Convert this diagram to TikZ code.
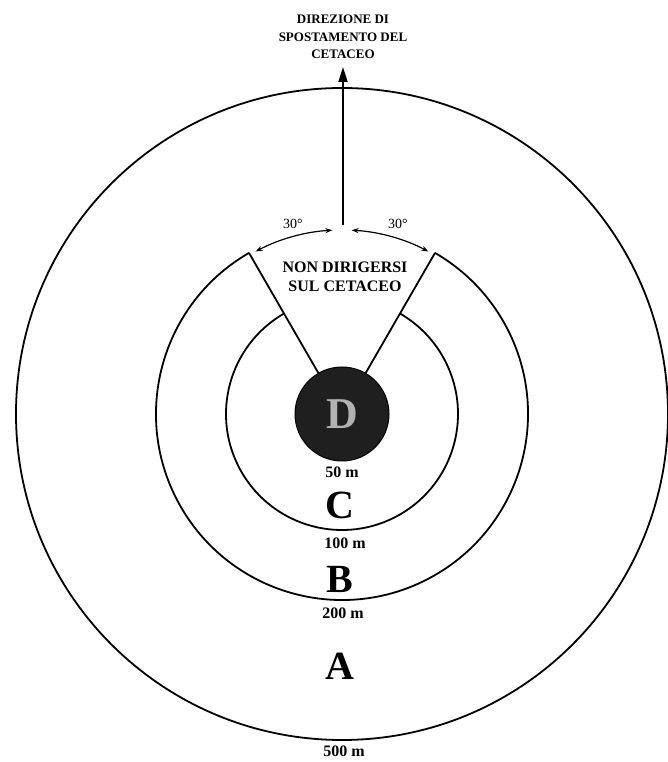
\documentclass[tikz,border=0pt]{standalone}
\usepackage{fontspec}
\setmainfont{Liberation Serif}
\usetikzlibrary{arrows.meta}
\tikzset{
  ring/.style={line width=1.8pt},
  lbl/.style={font=\bfseries\fontsize{16}{18}\selectfont, inner sep=0pt},
  zone/.style={font=\bfseries\fontsize{40}{40}\selectfont, inner sep=0pt},
  title/.style={font=\bfseries\fontsize{13}{17.5}\selectfont, align=center, inner sep=0pt},
  warn/.style={font=\bfseries\fontsize{16}{19}\selectfont, align=center, inner sep=0pt},
  deg/.style={font=\fontsize{14}{14}\selectfont, inner sep=0pt},
  angarrow/.style={line width=1.2pt, {Stealth[length=7pt,width=5pt]}-{Stealth[length=7pt,width=5pt]}}
}
\begin{document}
\begin{tikzpicture}[x=1pt,y=1pt]
\useasboundingbox (-342,-348) rectangle (325,414);
\coordinate (c) at (0,0);
% outer circle 500 m
\draw[ring] (c) circle[radius=326pt];
% 200 m circle (open at the wedge)
\draw[ring] (120:186pt) arc[start angle=120,end angle=420,radius=186pt];
% 100 m circle (open at the wedge)
\draw[ring] (120:116pt) arc[start angle=120,end angle=420,radius=116pt];
% wedge lines
\draw[ring] (120:46pt) -- (120:186pt);
\draw[ring] (60:46pt) -- (60:186pt);
% dark disk 50 m
\node[circle, fill=black!88, draw=black, line width=1pt, minimum size=94pt, inner sep=0pt,
      text=black!30, font=\bfseries\fontsize{44}{44}\selectfont] (disk) at (0,0) {D};
% direction arrow
\coordinate (abase) at (1,189);
\coordinate (atip) at (1,347);
\draw[line width=2pt, -{Triangle[length=15pt,width=9pt]}] (abase) -- (atip);
\node[title] (dir) at (1,377) {DIREZIONE DI\\SPOSTAMENTO DEL\\CETACEO};
% 30 degree arcs
\draw[angarrow] (118:184pt) arc[start angle=118,end angle=93,radius=184pt];
\draw[angarrow] (87:184pt) arc[start angle=87,end angle=62,radius=184pt];
\node[deg] (degl) at (-49,190) {30°};
\node[deg] (degr) at (56,190) {30°};
\node[warn] (warn) at (3,137.5) {NON DIRIGERSI\\SUL CETACEO};
% labels
\node[lbl] (l50) at (0,-58) {50 m};
\node[zone] (zc) at (-2,-91) {C};
\node[lbl] (l100) at (3,-129) {100 m};
\node[zone] (zb) at (-2,-165) {B};
\node[lbl] (l200) at (1,-199) {200 m};
\node[zone] (za) at (-2,-252) {A};
\node[lbl] (l500) at (2,-337) {500 m};
\end{tikzpicture}
\end{document}
